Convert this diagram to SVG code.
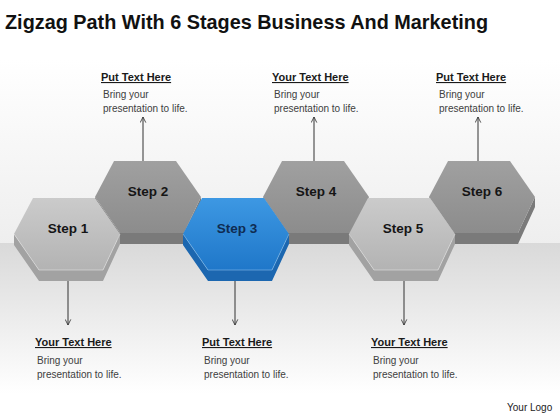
<svg xmlns="http://www.w3.org/2000/svg" width="560" height="420" viewBox="0 0 560 420">
  <defs>
    <linearGradient id="bgTop" x1="0" y1="0" x2="0" y2="1">
      <stop offset="0" stop-color="#ffffff"/>
      <stop offset="1" stop-color="#eeeeee"/>
    </linearGradient>
    <linearGradient id="bgBand" x1="0" y1="0" x2="0" y2="1">
      <stop offset="0" stop-color="#d9d9d9"/>
      <stop offset="0.85" stop-color="#ffffff"/>
      <stop offset="1" stop-color="#ffffff"/>
    </linearGradient>
    <linearGradient id="faceLight" x1="0" y1="0" x2="0" y2="1">
      <stop offset="0" stop-color="#cbcbcb"/>
      <stop offset="1" stop-color="#b3b3b3"/>
    </linearGradient>
    <linearGradient id="faceDark" x1="0" y1="0" x2="0" y2="1">
      <stop offset="0" stop-color="#a0a0a0"/>
      <stop offset="1" stop-color="#8c8c8c"/>
    </linearGradient>
    <linearGradient id="faceBlue" x1="0" y1="0" x2="0" y2="1">
      <stop offset="0" stop-color="#3d98e3"/>
      <stop offset="1" stop-color="#1f77c9"/>
    </linearGradient>
    <polygon id="hexFace" points="-53,0 -34,-36 28,-36 53,0 36,36 -28,36"/>
    <polygon id="hexSide" points="-53,0 -28,36 36,36 53,0 53,10 36,47 -28,47 -53,11"/>
    <marker id="arr" viewBox="0 0 10 10" refX="9" refY="5" markerWidth="7" markerHeight="7" orient="auto" markerUnits="userSpaceOnUse">
      <path d="M1,1 L9,5 L1,9" fill="none" stroke="#333" stroke-width="1.2"/>
    </marker>
    <style>
      .title { font-family: "Liberation Sans", Arial, sans-serif; font-weight: bold; font-size: 21px; fill: #111; }
      .step { font-family: "Liberation Sans", Arial, sans-serif; font-weight: bold; font-size: 13.5px; fill: #151515; text-anchor: middle; }
      .head { font-family: "Liberation Sans", Arial, sans-serif; font-weight: bold; font-size: 11px; fill: #1a1a1a; text-decoration: underline; }
      .body { font-family: "Liberation Sans", Arial, sans-serif; font-size: 10px; fill: #404040; }
      .logo { font-family: "Liberation Sans", Arial, sans-serif; font-size: 10px; fill: #222; }
      .conn { stroke: #333; stroke-width: 1; fill: none; }
      .edge { fill: none; stroke: #e6e6e6; stroke-width: 0.8; opacity: 0.7; }
    </style>
  </defs>

  <!-- background -->
  <rect x="0" y="0" width="560" height="420" fill="#ffffff"/>
  <rect x="0" y="60" width="560" height="184" fill="url(#bgTop)"/>
  <rect x="0" y="243" width="560" height="177" fill="url(#bgBand)"/>

  <text class="title" x="5" y="29" textLength="483" lengthAdjust="spacingAndGlyphs">Zigzag Path With 6 Stages Business And Marketing</text>

  <!-- connectors -->
  <g id="connectors">
    <line class="conn" x1="143" y1="161" x2="143" y2="117" marker-end="url(#arr)"/>
    <line class="conn" x1="314" y1="161" x2="314" y2="117" marker-end="url(#arr)"/>
    <line class="conn" x1="478" y1="161" x2="478" y2="117" marker-end="url(#arr)"/>
    <line class="conn" x1="68" y1="281" x2="68" y2="325" marker-end="url(#arr)"/>
    <line class="conn" x1="235" y1="281" x2="235" y2="325" marker-end="url(#arr)"/>
    <line class="conn" x1="404" y1="281" x2="404" y2="325" marker-end="url(#arr)"/>
  </g>

  <!-- upper row hexes -->
  <g id="step2" transform="translate(148,197)">
    <use href="#hexSide" fill="#7a7a7a"/>
    <use href="#hexFace" fill="url(#faceDark)"/>
    <text class="step" x="0" y="-1">Step 2</text>
  </g>
  <g id="step4" transform="translate(316,197)">
    <use href="#hexSide" fill="#7a7a7a"/>
    <use href="#hexFace" fill="url(#faceDark)"/>
    <text class="step" x="0" y="-1">Step 4</text>
  </g>
  <g id="step6" transform="translate(482,197)">
    <use href="#hexSide" fill="#7a7a7a"/>
    <use href="#hexFace" fill="url(#faceDark)"/>
    <text class="step" x="0" y="-1">Step 6</text>
  </g>

  <!-- lower row hexes -->
  <g id="step1" transform="translate(67,234)">
    <use href="#hexSide" fill="#a2a2a2"/>
    <use href="#hexFace" fill="url(#faceLight)"/>
    <polyline class="edge" points="-53,0 -28,36 36,36 53,0"/>
    <text class="step" x="1" y="-1">Step 1</text>
  </g>
  <g id="step3" transform="translate(236,234)">
    <use href="#hexSide" fill="#1c67b0"/>
    <use href="#hexFace" fill="url(#faceBlue)"/>
    <polyline class="edge" points="-53,0 -28,36 36,36 53,0" style="stroke:#8cc4f0"/>
    <text class="step" x="1" y="-1" style="fill:#0f2c52">Step 3</text>
  </g>
  <g id="step5" transform="translate(402,234)">
    <use href="#hexSide" fill="#a2a2a2"/>
    <use href="#hexFace" fill="url(#faceLight)"/>
    <polyline class="edge" points="-53,0 -28,36 36,36 53,0"/>
    <text class="step" x="1" y="-1">Step 5</text>
  </g>

  <!-- upper notes -->
  <g id="note2">
    <text class="head" x="101" y="81">Put Text Here</text>
    <text class="body" x="103" y="98">Bring your</text>
    <text class="body" x="103" y="112">presentation to life.</text>
  </g>
  <g id="note4">
    <text class="head" x="272" y="81">Your Text Here</text>
    <text class="body" x="274" y="98">Bring your</text>
    <text class="body" x="274" y="112">presentation to life.</text>
  </g>
  <g id="note6">
    <text class="head" x="436" y="81">Put Text Here</text>
    <text class="body" x="439" y="98">Bring your</text>
    <text class="body" x="439" y="112">presentation to life.</text>
  </g>

  <!-- lower notes -->
  <g id="note1">
    <text class="head" x="35" y="346">Your Text Here</text>
    <text class="body" x="37" y="364">Bring your</text>
    <text class="body" x="37" y="378">presentation to life.</text>
  </g>
  <g id="note3">
    <text class="head" x="202" y="346">Put Text Here</text>
    <text class="body" x="204" y="364">Bring your</text>
    <text class="body" x="204" y="378">presentation to life.</text>
  </g>
  <g id="note5">
    <text class="head" x="371" y="346">Your Text Here</text>
    <text class="body" x="373" y="364">Bring your</text>
    <text class="body" x="373" y="378">presentation to life.</text>
  </g>

  <text class="logo" x="507" y="411">Your Logo</text>
</svg>
